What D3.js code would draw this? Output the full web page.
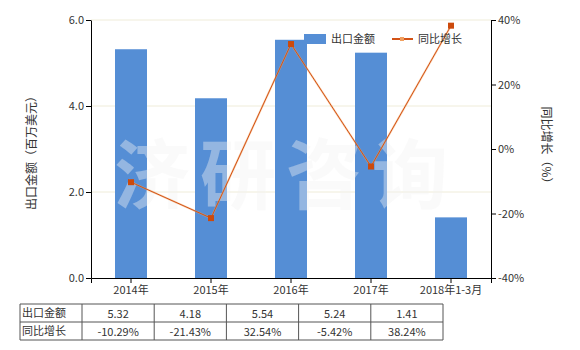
<!DOCTYPE html>
<html>
  <head>
    <meta charset="utf-8">
    <title>出口金额 同比增长</title>
    <script type="text/javascript" src="https://cdn.jsdelivr.net/npm/d3@7"></script>
    <style>
      body { margin: 0; background: #fff; }
      text { font-family: "Noto Sans CJK SC", "DejaVu Sans", sans-serif; font-size: 11px; fill: #333; }
    </style>
  </head>
  <body>
    <script type="text/javascript">
     let categories = ["2014年", "2015年", "2016年", "2017年", "2018年1-3月"];
     let amounts = [5.32, 4.18, 5.54, 5.24, 1.41];
     let growth = [-10.29, -21.43, 32.54, -5.42, 38.24];
     let amountLabels = ["5.32", "4.18", "5.54", "5.24", "1.41"];
     let growthLabels = ["-10.29%", "-21.43%", "32.54%", "-5.42%", "38.24%"];
     let leftTicks = [0, 2, 4, 6];
     let rightTicks = [-40, -20, 0, 20, 40];

     // set the canvas
     let w = 580;
     let h = 350;
     let margin = {top: 20, right: 89, bottom: 72, left: 91};

     let svg = d3.select("body").append("svg")
		 .attr("width", w)
		 .attr("height", h)
		 .style("display", "block");

     // scales
     let xScale = d3.scaleBand()
		    .domain(categories)
		    .range([margin.left, w - margin.right])
		    .paddingInner(0.6)
		    .paddingOuter(0.3);
     let yScale = d3.scaleLinear()
		    .domain([0, 6])
		    .range([h - margin.bottom, margin.top]);
     let y2Scale = d3.scaleLinear()
		     .domain([-40, 40])
		     .range([h - margin.bottom, margin.top]);

     // grid lines
     svg.selectAll("line.grid")
	.data([2, 4, 6])
	.enter()
	.append("line")
	.attr("class", "grid")
	.attr("x1", margin.left)
	.attr("x2", w - margin.right)
	.attr("y1", (d) => {return yScale(d);})
	.attr("y2", (d) => {return yScale(d);})
	.attr("stroke", "#efecd9")
	.attr("stroke-width", 1);

     // bars
     svg.selectAll("rect.bar")
	.data(amounts)
	.enter()
	.append("rect")
	.attr("class", "bar")
	.attr("x", (d, i) => {return xScale(categories[i]);})
	.attr("y", (d) => {return yScale(d);})
	.attr("width", xScale.bandwidth())
	.attr("height", (d) => {return yScale(0) - yScale(d);})
	.attr("fill", "#558ed5");

     // watermark -- on top of the bars, beneath the line
     svg.append("text")
	.attr("x", 286)
	.attr("y", 203)
	.attr("text-anchor", "middle")
	.style("font-size", "76px")
	.style("font-weight", "bold")
	.style("letter-spacing", "10px")
	.style("fill", "#f2f2f2")
	.style("fill-opacity", 0.4)
	.text("济研咨询");

     // growth line
     let cx = (i) => {return xScale(categories[i]) + xScale.bandwidth() / 2;};
     let line = d3.line()
		  .x((d, i) => {return cx(i);})
		  .y((d) => {return y2Scale(d);});
     svg.append("path")
	.datum(growth)
	.attr("d", line)
	.attr("fill", "none")
	.attr("stroke", "#f4a460")
	.attr("stroke-width", 2)
	.attr("stroke-opacity", 0.5);
     svg.append("path")
	.datum(growth)
	.attr("d", line)
	.attr("fill", "none")
	.attr("stroke", "#d35317")
	.attr("stroke-width", 1);
     svg.selectAll("rect.marker")
	.data(growth)
	.enter()
	.append("rect")
	.attr("class", "marker")
	.attr("x", (d, i) => {return cx(i) - 3;})
	.attr("y", (d) => {return y2Scale(d) - 3;})
	.attr("width", 6)
	.attr("height", 6)
	.attr("fill", "#cc4a0c");

     // axes
     let xAxis = d3.axisBottom(xScale).tickSizeOuter(0).tickSize(5).tickPadding(3);
     let gx = svg.append("g")
		 .attr("transform", "translate(0, " + (h - margin.bottom) + ")")
		 .call(xAxis);
     let yAxis = d3.axisLeft(yScale).tickValues(leftTicks).tickFormat(d3.format(".1f")).tickSize(5).tickSizeOuter(0).tickPadding(2);
     let gy = svg.append("g")
		 .attr("transform", "translate(" + margin.left + ", 0)")
		 .call(yAxis);
     let y2Axis = d3.axisRight(y2Scale).tickValues(rightTicks).tickFormat((d) => {return d + "%";}).tickSize(5).tickSizeOuter(0).tickPadding(2);
     let gy2 = svg.append("g")
		  .attr("transform", "translate(" + (w - margin.right) + ", 0)")
		  .call(y2Axis);
     [gx, gy, gy2].forEach((g) => {
       g.selectAll("path, line").attr("stroke", "#000");
       g.selectAll("text").attr("fill", null);
       g.attr("font-family", null).attr("font-size", null);
     });

     // axis titles
     svg.append("text")
	.attr("transform", "translate(33, 150) rotate(-90)")
	.attr("text-anchor", "middle")
	.attr("dominant-baseline", "middle")
	.style("font-size", "12px")
	.text("出口金额（百万美元）");
     svg.append("text")
	.attr("transform", "translate(545, 148) rotate(90)")
	.attr("text-anchor", "middle")
	.attr("dominant-baseline", "middle")
	.style("font-size", "12px")
	.text("同比增长（%）");

     // legend
     svg.append("rect")
	.attr("x", 304).attr("y", 34).attr("width", 22).attr("height", 10)
	.attr("fill", "#558ed5");
     svg.append("text").attr("x", 331).attr("y", 43).text("出口金额");
     svg.append("line")
	.attr("x1", 392).attr("x2", 413).attr("y1", 39).attr("y2", 39)
	.attr("stroke", "#d35317").attr("stroke-width", 2);
     svg.append("rect")
	.attr("x", 400).attr("y", 37).attr("width", 4).attr("height", 4)
	.attr("fill", "#f0a060");
     svg.append("text").attr("x", 418).attr("y", 43).text("同比增长");

     // data table
     let tLeft = 20, tFirst = 82, colW = 72.2, tTop = 304, rowH = 18;
     let rows = [["出口金额", amountLabels], ["同比增长", growthLabels]];
     let tRight = tFirst + colW * categories.length;
     let tbl = svg.append("g").attr("class", "table");
     [0, 1, 2].forEach((r) => {
       tbl.append("line")
	  .attr("x1", tLeft).attr("x2", tRight)
	  .attr("y1", tTop + r * rowH).attr("y2", tTop + r * rowH)
	  .attr("stroke", "#555");
     });
     let vx = [tLeft, tFirst].concat(categories.map((c, i) => {return tFirst + colW * (i + 1);}));
     vx.forEach((x) => {
       tbl.append("line")
	  .attr("x1", x).attr("x2", x)
	  .attr("y1", tTop).attr("y2", tTop + 2 * rowH)
	  .attr("stroke", "#555");
     });
     rows.forEach((row, r) => {
       tbl.append("text")
	  .attr("x", tLeft + 2)
	  .attr("y", tTop + r * rowH + 13)
	  .text(row[0]);
       row[1].forEach((v, i) => {
	 tbl.append("text")
	    .attr("x", tFirst + colW * (i + 0.5))
	    .attr("y", tTop + r * rowH + 14)
	    .attr("text-anchor", "middle")
	    .text(v);
       });
     });
    </script>
  </body>
</html>
